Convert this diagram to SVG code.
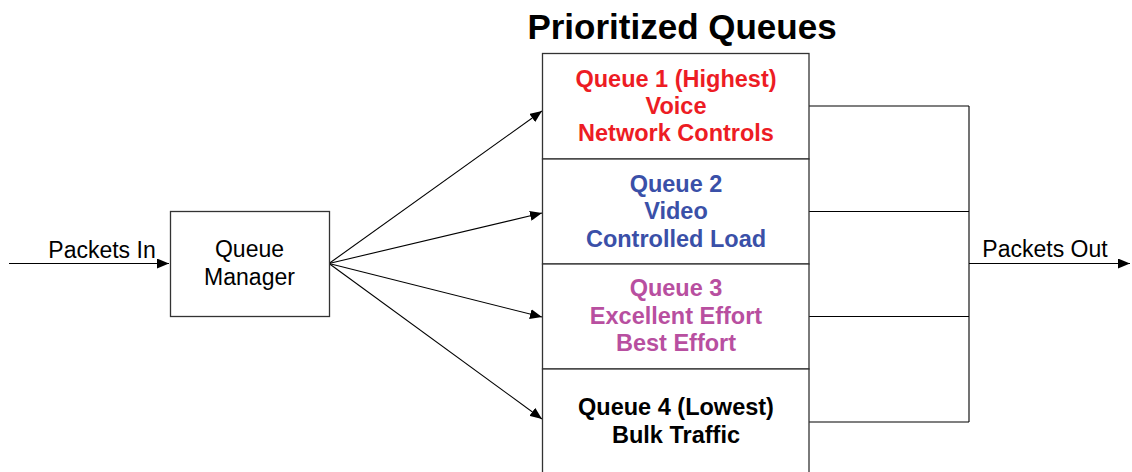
<svg xmlns="http://www.w3.org/2000/svg" width="1132" height="472" viewBox="0 0 1132 472">
<style>
.t{font-family:"Liberation Sans",Arial,sans-serif;text-anchor:middle}
.b{font-weight:bold;font-size:23.5px}
.r{font-size:23px}
.box{fill:#fff;stroke:#333;stroke-width:1.3}
.c{fill:none;stroke:#000;stroke-width:1.1}
</style>
<defs>
<marker id="ah" viewBox="0 0 12 10" refX="12" refY="5" markerWidth="12" markerHeight="10" markerUnits="userSpaceOnUse" orient="auto">
<path d="M0,0 L12,5 L0,10 z" fill="#000"/>
</marker>
</defs>
<text class="t" x="682" y="39" style="font-weight:bold;font-size:35px">Prioritized Queues</text>
<g id="connectors">
<path class="c" d="M9,263.5 H169" marker-end="url(#ah)"/>
<path class="c" d="M329,263.5 L542,111" marker-end="url(#ah)"/>
<path class="c" d="M329,263.5 L542,213" marker-end="url(#ah)"/>
<path class="c" d="M329,263.5 L542,317" marker-end="url(#ah)"/>
<path class="c" d="M329,263.5 L542,419" marker-end="url(#ah)"/>
<path class="c" d="M809,106 H969 M809,211.5 H969 M809,316.5 H969 M809,422 H969 M969,106 V422"/>
<path class="c" d="M969,263.5 H1130" marker-end="url(#ah)"/>
<text class="t r" x="102" y="258">Packets In</text>
<text class="t r" x="1045" y="257">Packets Out</text>
</g>
<g id="queue-manager">
<rect class="box" x="170.5" y="211.5" width="159" height="105"/>
<text class="t r" x="249.5" y="257">Queue</text>
<text class="t r" x="249.5" y="285">Manager</text>
</g>
<g id="queue1">
<rect class="box" x="542.5" y="53.5" width="266.5" height="105.5"/>
<text class="t b" x="676" y="87" fill="#ED1C24">Queue 1 (Highest)</text>
<text class="t b" x="676" y="114" fill="#ED1C24">Voice</text>
<text class="t b" x="676" y="141" fill="#ED1C24">Network Controls</text>
</g>
<g id="queue2">
<rect class="box" x="542.5" y="159" width="266.5" height="105"/>
<text class="t b" x="676" y="192" fill="#3A50A8">Queue 2</text>
<text class="t b" x="676" y="219" fill="#3A50A8">Video</text>
<text class="t b" x="676" y="246.5" fill="#3A50A8">Controlled Load</text>
</g>
<g id="queue3">
<rect class="box" x="542.5" y="264" width="266.5" height="105"/>
<text class="t b" x="676" y="296" fill="#B84FA0">Queue 3</text>
<text class="t b" x="676" y="323.5" fill="#B84FA0">Excellent Effort</text>
<text class="t b" x="676" y="351" fill="#B84FA0">Best Effort</text>
</g>
<g id="queue4">
<rect class="box" x="542.5" y="369" width="266.5" height="120"/>
<text class="t b" x="676" y="415" fill="#000">Queue 4 (Lowest)</text>
<text class="t b" x="676" y="443" fill="#000">Bulk Traffic</text>
</g>
</svg>
